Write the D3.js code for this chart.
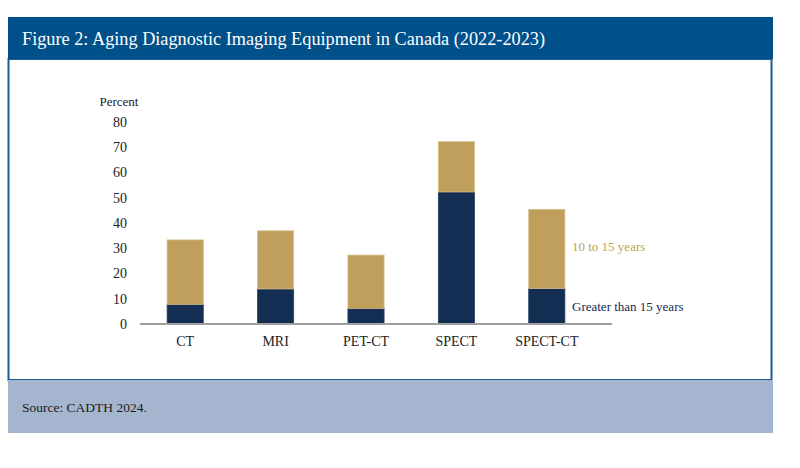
<!DOCTYPE html>
<html>
<head>
<meta charset="utf-8">
<script src="https://cdn.jsdelivr.net/npm/d3@7"></script>
<style>
  html, body { margin: 0; padding: 0; background: #fff; }
  svg { display: block; font-family: "Liberation Serif", "DejaVu Serif", serif; }
</style>
</head>
<body>
<svg id="chart" width="800" height="468"></svg>
<script>
const categories = ["CT", "MRI", "PET-CT", "SPECT", "SPECT-CT"];
const greaterThan15 = [7.8, 13.9, 6.2, 52.3, 14.1];
const tenTo15 = [25.5, 23.0, 21.1, 19.9, 31.3];
const yTicks = [0, 10, 20, 30, 40, 50, 60, 70, 80];
const seriesNames = ["Greater than 15 years", "10 to 15 years"];
const titleText = "Figure 2: Aging Diagnostic Imaging Equipment in Canada (2022-2023)";
const sourceText = "Source: CADTH 2024.";

const svg = d3.select("#chart");
const darkColor = "#132d53";
const goldColor = "#bf9f5b";

// Frame
svg.append("rect").attr("x", 8.5).attr("y", 59).attr("width", 763).attr("height", 321)
  .attr("fill", "#fff").attr("stroke", "#1d5a93").attr("stroke-width", 2);
svg.append("rect").attr("x", 8).attr("y", 17).attr("width", 765).attr("height", 42)
  .attr("fill", "#00508a");
svg.append("text").attr("x", 22).attr("y", 45).attr("fill", "#fff")
  .attr("font-size", 19.5).attr("textLength", 523).attr("lengthAdjust", "spacingAndGlyphs")
  .text(titleText);
svg.append("rect").attr("x", 8).attr("y", 380).attr("width", 765).attr("height", 53)
  .attr("fill", "#a6b5cf");
svg.append("text").attr("x", 22).attr("y", 412).attr("fill", "#1a1a1a")
  .attr("font-size", 13.5).text(sourceText);

// Scales
const x = d3.scaleBand().domain(categories).range([140, 592]).paddingInner(0.6).paddingOuter(0.3);
const y = d3.scaleLinear().domain([0, 80]).range([324, 122]);

const data = categories.map((c, i) => ({ cat: c, g15: greaterThan15[i], t15: tenTo15[i] }));
const stacked = d3.stack().keys(["g15", "t15"])(data);
const colors = [darkColor, goldColor];
const strokes = ["#2a4068", "#d6bf86"];

stacked.forEach((layer, li) => {
  svg.append("g").selectAll("rect").data(layer).join("rect")
    .attr("x", d => x(d.data.cat))
    .attr("width", x.bandwidth())
    .attr("y", d => y(d[1]))
    .attr("height", d => y(d[0]) - y(d[1]))
    .attr("fill", colors[li])
    .attr("stroke", strokes[li])
    .attr("stroke-width", 0.8);
});

// Y axis labels
const yAxis = d3.axisLeft(y).tickValues(yTicks).tickSize(0).tickPadding(0);
const yg = svg.append("g").attr("transform", "translate(127,0)").call(yAxis);
yg.select(".domain").remove();
yg.selectAll("text").attr("font-family", "Liberation Serif").attr("font-size", 14).attr("fill", "#222");

svg.append("text").attr("x", 119).attr("y", 106).attr("text-anchor", "middle")
  .attr("font-size", 13).attr("fill", "#222").text("Percent");

// X axis
const xAxis = d3.axisBottom(x).tickSize(0).tickPadding(12);
const xg = svg.append("g").attr("transform", "translate(0,324)").call(xAxis);
xg.select(".domain").remove();
xg.selectAll("text").attr("font-family", "Liberation Serif").attr("font-size", 14).attr("fill", "#222");
svg.append("line").attr("x1", 140).attr("x2", 612).attr("y1", 324).attr("y2", 324)
  .attr("stroke", "#a0a0a0").attr("stroke-width", 2);

// Series labels
const last = data[data.length - 1];
svg.append("text").attr("x", 572).attr("y", 251)
  .attr("font-size", 13).attr("fill", goldColor).text(seriesNames[1]);
svg.append("text").attr("x", 572).attr("y", 311)
  .attr("font-size", 13).attr("fill", darkColor).text(seriesNames[0]);
</script>
</body>
</html>
